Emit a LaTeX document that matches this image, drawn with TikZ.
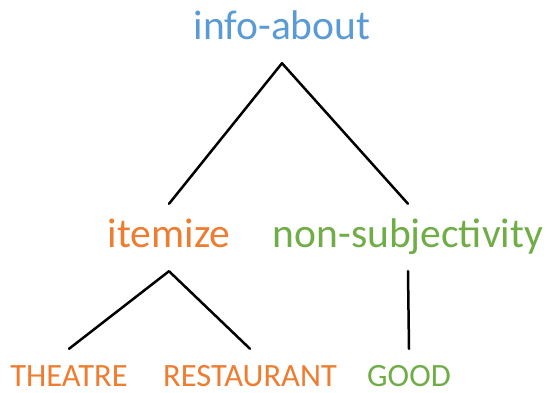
\documentclass[tikz,border=0pt]{standalone}
\usepackage{fontspec}
\setmainfont{Carlito}
\usepackage{tikz}
\usetikzlibrary{positioning}
\definecolor{infoblue}{HTML}{5B9BD5}
\definecolor{itemorange}{HTML}{ED7D31}
\definecolor{subjgreen}{HTML}{70AD47}
\tikzstyle{big} = [anchor=base, inner xsep=0pt, inner ysep=15pt, text height=28pt, text depth=9pt, font=\fontsize{41.5}{45}\selectfont]
\tikzstyle{leaf} = [anchor=base, inner xsep=0pt, inner ysep=0pt, text height=24pt, text depth=0pt, font=\fontsize{32.5}{35}\selectfont]
\tikzstyle{edge} = [line width=2.5pt, line cap=round, line join=round]

\begin{document}
\begin{tikzpicture}[x=1pt, y=-1pt]
	\useasboundingbox (0,0) rectangle (547,392);
	\node (InfoAbout) [big, text=infoblue] at (282,39) {info-about};
	\node (Itemize) [big, text=itemorange] at (169,247) {itemize};
	\node (NonSubj) [big, text=subjgreen] at (408,247) {non-subjectivity};
	\node (Theatre) [leaf, text=itemorange] at (69,386) {THEATRE};
	\node (Restaurant) [leaf, text=itemorange] at (250,386) {RESTAURANT};
	\node (Good) [leaf, text=subjgreen] at (409,386) {GOOD};
	\draw [edge] (Itemize.north) -- (InfoAbout.south) -- (NonSubj.north);
	\draw [edge] ([yshift=13pt]Theatre.north) -- (Itemize.south) -- ([yshift=13pt]Restaurant.north);
	\draw [edge] (NonSubj.south) -- ([yshift=13pt]Good.north);
\end{tikzpicture}
\end{document}
